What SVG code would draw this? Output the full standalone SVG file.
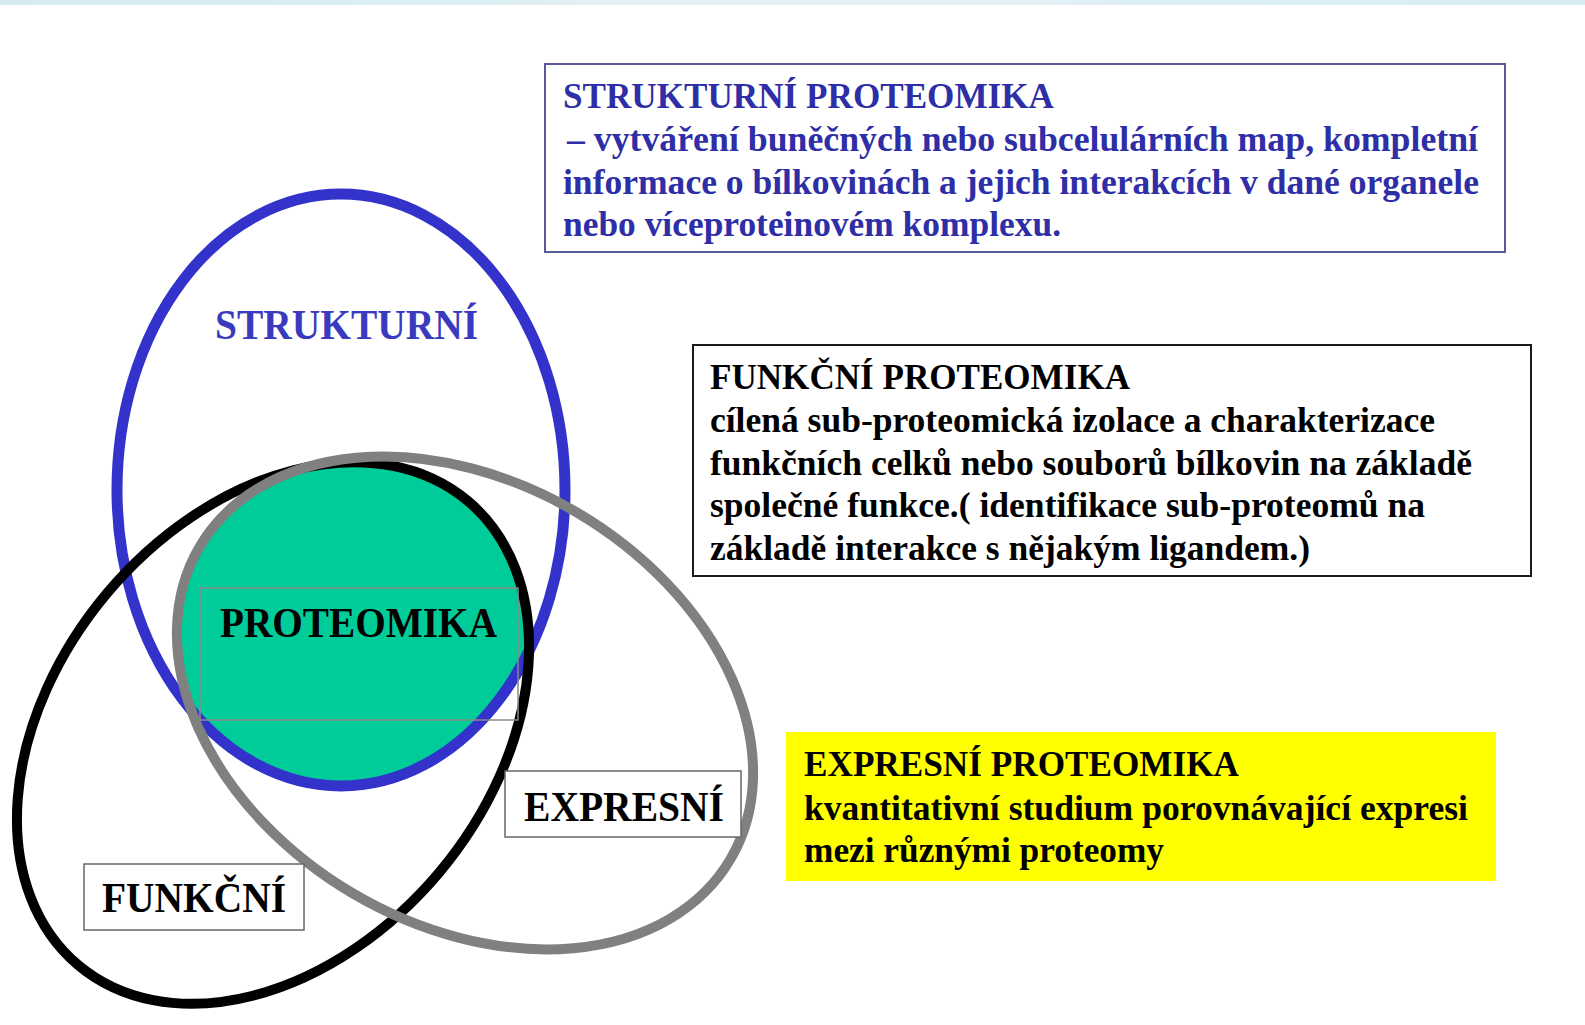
<svg xmlns="http://www.w3.org/2000/svg" width="1585" height="1025" viewBox="0 0 1585 1025">
  <style>
    .t { font-family: "Liberation Serif", "Times New Roman", serif; font-weight: bold; }
    .box { font-size: 36px; }
    .lbl { font-size: 42px; }
    .blue { fill: #2e2ea6; }
    .blk { fill: #000; }
    .ring { fill: none; }
  </style>
  <defs>
    <clipPath id="clipBlack">
      <ellipse cx="0" cy="0" rx="303" ry="217" transform="translate(273 733) rotate(-50)"/>
    </clipPath>
    <clipPath id="clipGray">
      <ellipse cx="0" cy="0" rx="308" ry="221" transform="translate(465 703) rotate(30.5)"/>
    </clipPath>
    <linearGradient id="band" x1="0" y1="0" x2="1" y2="0">
      <stop offset="0" stop-color="#d5eaf3"/>
      <stop offset="0.5" stop-color="#e4f2f5"/>
      <stop offset="1" stop-color="#d8ecf5"/>
    </linearGradient>
  </defs>

  <rect x="0" y="0" width="1585" height="1025" fill="#ffffff"/>
  <rect x="0" y="0" width="1585" height="5" fill="url(#band)"/>

  <!-- Venn diagram -->
  <g id="venn">
    <g id="core-fill" clip-path="url(#clipGray)">
      <g clip-path="url(#clipBlack)">
        <ellipse cx="341" cy="490" rx="224" ry="296" fill="#00cc99"/>
      </g>
    </g>
    <g id="set-strukturni">
      <ellipse class="ring" cx="341" cy="490" rx="224" ry="296" stroke="#3333cc" stroke-width="11"/>
    </g>
    <g id="set-funkcni">
      <ellipse class="ring" cx="0" cy="0" rx="303" ry="217" transform="translate(273 733) rotate(-50)" stroke="#000000" stroke-width="10"/>
    </g>
    <g id="set-expresni">
      <ellipse class="ring" cx="0" cy="0" rx="308" ry="221" transform="translate(465 703) rotate(30.5)" stroke="#808080" stroke-width="10"/>
    </g>
  </g>

  <g id="label-strukturni">
    <text class="t lbl" x="215" y="339" textLength="263" lengthAdjust="spacingAndGlyphs" fill="#3a3abf">STRUKTURNÍ</text>
  </g>
  <g id="label-proteomika">
    <rect x="200" y="588" width="318" height="132" fill="none" stroke="#8a8a8a" stroke-width="1.5"/>
    <text class="t lbl blk" x="220" y="637" textLength="277" lengthAdjust="spacingAndGlyphs">PROTEOMIKA</text>
  </g>
  <g id="label-expresni">
    <rect x="505" y="771" width="236" height="66" fill="#ffffff" stroke="#666666" stroke-width="1.5"/>
    <text class="t lbl blk" x="524" y="821" textLength="200" lengthAdjust="spacingAndGlyphs">EXPRESNÍ</text>
  </g>
  <g id="label-funkcni">
    <rect x="84" y="864" width="220" height="66" fill="#ffffff" stroke="#666666" stroke-width="1.5"/>
    <text class="t lbl blk" x="102" y="912" textLength="184" lengthAdjust="spacingAndGlyphs">FUNKČNÍ</text>
  </g>

  <!-- Description boxes -->
  <g id="desc-strukturni">
    <rect x="545" y="64" width="960" height="188" fill="#ffffff" stroke="#5a5a9a" stroke-width="2"/>
    <text class="t box blue" x="563" y="108" textLength="491" lengthAdjust="spacingAndGlyphs">STRUKTURNÍ PROTEOMIKA</text>
    <text class="t box blue" x="567" y="151" textLength="911" lengthAdjust="spacingAndGlyphs">– vytváření buněčných nebo subcelulárních map, kompletní</text>
    <text class="t box blue" x="563" y="194" textLength="916" lengthAdjust="spacingAndGlyphs">informace o bílkovinách a jejich interakcích v dané organele</text>
    <text class="t box blue" x="563" y="236" textLength="498" lengthAdjust="spacingAndGlyphs">nebo víceproteinovém komplexu.</text>
  </g>

  <g id="desc-funkcni">
    <rect x="693" y="345" width="838" height="231" fill="#ffffff" stroke="#1a1a1a" stroke-width="2"/>
    <text class="t box blk" x="710" y="389" textLength="420" lengthAdjust="spacingAndGlyphs">FUNKČNÍ PROTEOMIKA</text>
    <text class="t box blk" x="710" y="432" textLength="725" lengthAdjust="spacingAndGlyphs">cílená sub-proteomická izolace a charakterizace</text>
    <text class="t box blk" x="710" y="475" textLength="762" lengthAdjust="spacingAndGlyphs">funkčních celků nebo souborů bílkovin na základě</text>
    <text class="t box blk" x="710" y="517" textLength="715" lengthAdjust="spacingAndGlyphs">společné funkce.( identifikace sub-proteomů na</text>
    <text class="t box blk" x="710" y="560" textLength="600" lengthAdjust="spacingAndGlyphs">základě interakce s nějakým ligandem.)</text>
  </g>

  <g id="desc-expresni">
    <rect x="786" y="732" width="710" height="149" fill="#ffff00"/>
    <text class="t box blk" x="804" y="776" textLength="435" lengthAdjust="spacingAndGlyphs">EXPRESNÍ PROTEOMIKA</text>
    <text class="t box blk" x="804" y="820" textLength="664" lengthAdjust="spacingAndGlyphs">kvantitativní studium porovnávající expresi</text>
    <text class="t box blk" x="804" y="862" textLength="360" lengthAdjust="spacingAndGlyphs">mezi různými proteomy</text>
  </g>
</svg>
